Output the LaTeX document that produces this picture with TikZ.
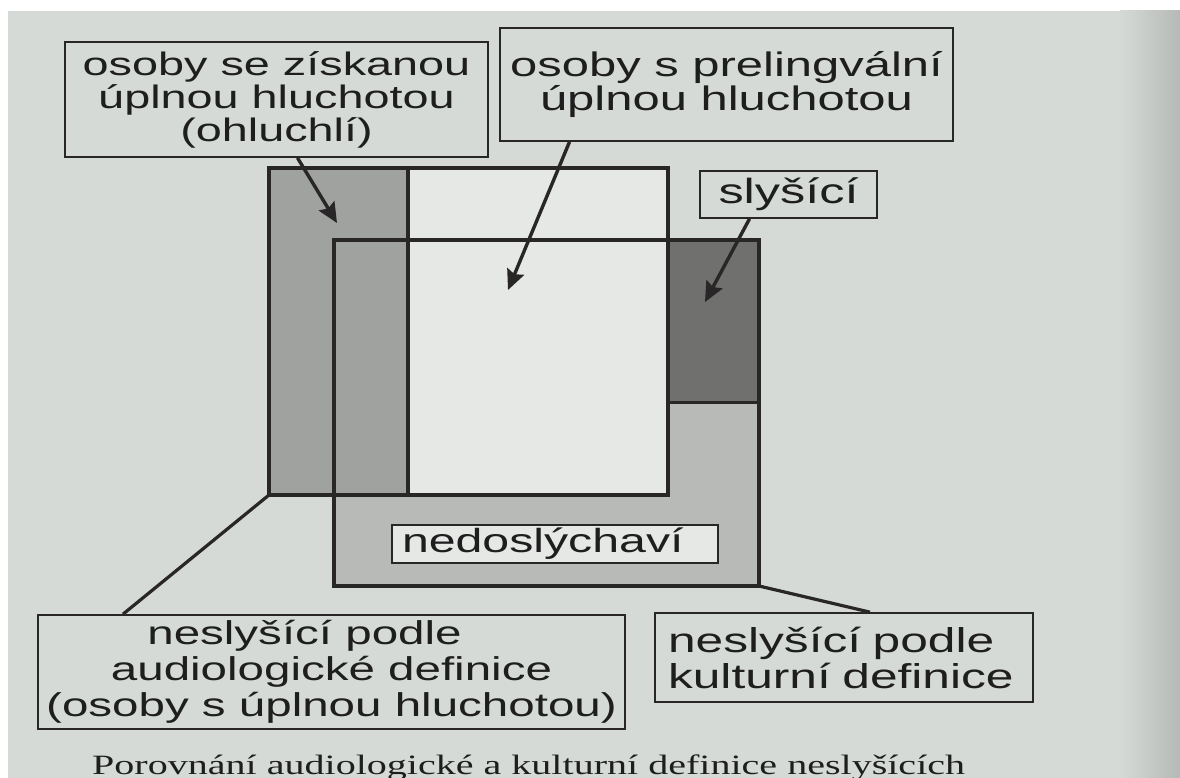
\documentclass[tikz,border=0pt]{standalone}
\usepackage{fontspec}
\setmainfont{Liberation Serif}[FakeStretch=1.43]
\newfontfamily\lab{Liberation Sans}[FakeStretch=1.44]
\usetikzlibrary{arrows.meta}
\definecolor{bg}{RGB}{214,218,214}
\definecolor{lightreg}{RGB}{229,232,229}
\definecolor{colgray}{RGB}{160,162,160}
\definecolor{lgray}{RGB}{184,186,183}
\definecolor{dgray}{RGB}{112,112,110}
\definecolor{linec}{RGB}{40,38,38}
\definecolor{txt}{RGB}{30,30,30}
\tikzset{
  lbl/.style={draw=linec, line width=1.7pt, inner sep=0pt, align=center, text=txt},
  region/.style={draw=linec, inner sep=0pt, outer sep=0pt},
  arr/.style={draw=linec, line width=3.4pt, -{Stealth[length=20pt,width=18pt,inset=3pt]}},
  conn/.style={draw=linec, line width=3.2pt},
}
\begin{document}
\begin{tikzpicture}[x=1pt,y=-1pt]
\useasboundingbox (0,0) rectangle (1180,778);
% page
\fill[white] (0,0) rectangle (1180,778);
\fill[bg] (8,11) rectangle (1180,778);
\shade[left color=bg, right color=bg!85!black] (1120,11) rectangle (1180,778);
% fills
\fill[lightreg] (269,168) rectangle (668,495);
\fill[lgray] (334,240) rectangle (759,586);
\fill[lightreg] (408,240) rectangle (668,495);
\fill[colgray] (269,168) rectangle (408,495);
\fill[dgray] (668,240) rectangle (759,402);
% region outlines
\node[region, line width=4pt, minimum width=399pt, minimum height=327pt] (outer) at (468.5,331.5) {};
\node[region, line width=3.6pt, minimum width=425pt, minimum height=346pt] (inner) at (546.5,413) {};
\draw[linec, line width=4pt] (outer.north west -| 408,0) coordinate (colT) -- (outer.south west -| 408,0) coordinate (colB);
\draw[linec, line width=3pt] (outer.east |- 0,402) coordinate (hl) -- (inner.east |- 0,402) coordinate (hr);
% labels
\node[lbl, minimum width=423pt, minimum height=115pt, font=\lab\fontsize{32.5}{33}\selectfont] (box1) at (276.5,99.5)
  {osoby se získanou\\úplnou hluchotou\\(ohluchlí)};
\node[lbl, minimum width=453pt, minimum height=113pt, font=\lab\fontsize{34}{33.5}\selectfont] (box2) at (726.5,84.5)
  {osoby s prelingvální\\úplnou hluchotou};
\node[lbl, minimum width=177pt, minimum height=47pt, font=\lab\fontsize{35}{35}\selectfont] (sly) at (788.5,194.5)
  {slyšící};
\node[lbl, fill=lightreg, minimum height=38pt, text width=306pt, inner xsep=10pt, align=left,
  font=\lab\fontsize{33.5}{34}\selectfont] (nedo) at (555,544) {nedoslýchaví};
\node[lbl, minimum width=587pt, minimum height=114pt, font=\lab\fontsize{33}{36}\selectfont] (box3) at (331.5,672)
  {neslyšící podle\hspace*{54pt}\\audiologické definice\\(osoby s úplnou hluchotou)};
\node[lbl, minimum height=89pt, text width=352pt, inner xsep=13pt, align=left,
  font=\lab\fontsize{34.5}{36}\selectfont] (box4) at (844,657.5)
  {neslyšící podle\\kulturní definice};
% arrow targets
\coordinate (t1) at (337,223);
\coordinate (t2) at (508,290);
\coordinate (t3) at (705,302);
\draw[arr] ([xshift=21pt]box1.south) -- (t1);
\draw[arr] ([xshift=-157pt]box2.south) -- (t2);
\draw[arr] ([xshift=-39pt]sly.south) -- (t3);
\draw[conn] (outer.south west) -- ([xshift=-208.5pt]box3.north);
\draw[conn] (inner.south east) -- ([xshift=26pt]box4.north);
% caption
\node[anchor=base west, inner sep=0pt, text=txt, font=\fontsize{28}{30}\selectfont] (cap) at (92,774)
  {Porovnání audiologické a kulturní definice neslyšících};
\end{tikzpicture}
\end{document}
